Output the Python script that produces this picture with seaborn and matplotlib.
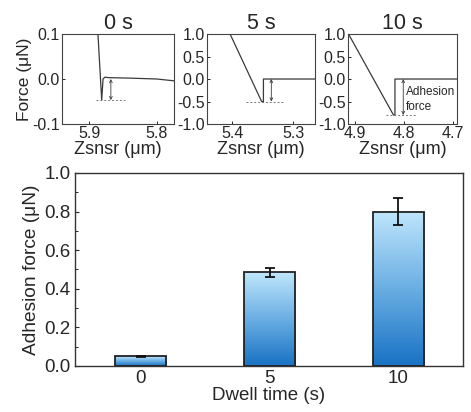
import numpy as np
import pandas as pd
import matplotlib
matplotlib.use("Agg")
import matplotlib.pyplot as plt
import seaborn as sns
from matplotlib.colors import LinearSegmentedColormap

# ---- data ----
dwell = ["0", "5", "10"]
adhesion = [0.05, 0.485, 0.80]
adhesion_err = [0.003, 0.025, 0.068]

titles = ["0 s", "5 s", "10 s"]
c0_x = [5.887, 5.8815, 5.8795, 5.877, 5.870, 5.840, 5.800, 5.775]
c0_y = [0.100, -0.047, 0.000, 0.004, 0.003, 0.002, 0.000, -0.004]
c5_x = [5.404, 5.352, 5.349, 5.349, 5.264]
c5_y = [1.00, -0.50, -0.50, 0.00, 0.00]
c10_x = [4.913, 4.821, 4.818, 4.818, 4.691]
c10_y = [1.00, -0.80, -0.80, 0.00, 0.00]
adh_level = [-0.047, -0.50, -0.80]
dot_x = [(5.890, 5.847), (5.377, 5.315), (4.836, 4.772)]
arrow_x = [5.868, 5.336, 4.801]
xlims = [(5.94, 5.775), (5.442, 5.264), (4.914, 4.691)]
ylims = [(-0.1, 0.1), (-1.0, 1.0), (-1.0, 1.0)]
xticks = [[5.9, 5.8], [5.4, 5.3], [4.9, 4.8, 4.7]]
yticks = [[-0.1, 0.0, 0.1], [-1.0, -0.5, 0.0, 0.5, 1.0], [-1.0, -0.5, 0.0, 0.5, 1.0]]

sns.set_style("ticks")
plt.rcParams['font.family'] = ['Liberation Sans', 'DejaVu Sans']
plt.rcParams['xtick.direction'] = 'in'
plt.rcParams['ytick.direction'] = 'in'

fig = plt.figure(figsize=(4.71, 4.12), dpi=100)
top_pos = [(0.1316, 0.699, 0.2378, 0.2184),
           (0.4395, 0.699, 0.2293, 0.2184),
           (0.7389, 0.699, 0.2314, 0.2184)]
curves = [(c0_x, c0_y), (c5_x, c5_y), (c10_x, c10_y)]
linec = "#3a3a3a"
for i, pos in enumerate(top_pos):
    ax = fig.add_axes(pos)
    df = pd.DataFrame({"x": curves[i][0], "y": curves[i][1]})
    sns.lineplot(data=df, x="x", y="y", ax=ax, color=linec, lw=0.9, sort=False, estimator=None)
    ax.plot(dot_x[i], [adh_level[i]] * 2, ls=(0, (2, 2)), color="#777777", lw=0.7)
    ax.annotate("", xy=(arrow_x[i], adh_level[i]), xytext=(arrow_x[i], 0.0),
                arrowprops=dict(arrowstyle="<->", color=linec, lw=0.6, mutation_scale=5,
                                shrinkA=0, shrinkB=0))
    ax.set_xlim(*xlims[i])
    ax.set_ylim(*ylims[i])
    ax.set_xticks(xticks[i])
    ax.set_yticks(yticks[i])
    ax.set_xticklabels([f"{v:.1f}" for v in xticks[i]])
    ax.set_yticklabels([f"{v:.1f}" for v in yticks[i]])
    ax.tick_params(labelsize=11.5, length=2.5, width=0.7, pad=1.5)
    ax.set_title(titles[i], fontsize=15.5, pad=2)
    ax.set_xlabel("Zsnsr (μm)", fontsize=13, labelpad=0)
    ax.set_ylabel("Force (μN)" if i == 0 else "", fontsize=12.5, labelpad=0)
    for s in ax.spines.values():
        s.set_visible(True)
        s.set_linewidth(0.8)
        s.set_color("#444444")
    if i == 2:
        ax.text(4.795, -0.45, "Adhesion\nforce", fontsize=8.5, va="center", ha="left",
                linespacing=1.3)

# ---- bar chart ----
ax = fig.add_axes((0.1592, 0.1117, 0.8238, 0.4684))
bdf = pd.DataFrame({"Dwell": dwell, "Force": adhesion})
sns.barplot(data=bdf, x="Dwell", y="Force", ax=ax, width=0.4, color="#8fc3ea",
            edgecolor="#222222", linewidth=1.3, errorbar=None)
cmap = LinearSegmentedColormap.from_list("g", ["#1872c4", "#6aaee3", "#bfe6fc"])
grad = np.linspace(0, 1, 256).reshape(-1, 1)
for p in ax.patches:
    x0, y0 = p.get_x(), p.get_y()
    w, h = p.get_width(), p.get_height()
    im = ax.imshow(grad, extent=(x0, x0 + w, y0, y0 + h), origin="lower",
                   cmap=cmap, aspect="auto", zorder=p.get_zorder() - 0.1)
    im.set_clip_path(p)
    p.set_facecolor("none")
ax.errorbar(range(len(dwell)), adhesion, yerr=adhesion_err, fmt="none",
            ecolor="#111111", elinewidth=1.3, capsize=3.5, capthick=1.3, zorder=5)
ax.set_xlim(-0.508, 2.5)
ax.set_ylim(0, 1.0)
ax.set_yticks(np.arange(0, 1.01, 0.2))
ax.set_yticklabels([f"{v:.1f}" for v in np.arange(0, 1.01, 0.2)])
ax.set_yticks(np.arange(0.1, 1.0, 0.2), minor=True)
ax.tick_params(axis="both", labelsize=13.5, length=3, width=0.8, pad=3)
ax.tick_params(axis="y", which="minor", length=2, width=0.7)
ax.tick_params(axis="x", length=0)
ax.set_xlabel("Dwell time (s)", fontsize=13.5, labelpad=0)
ax.set_ylabel("Adhesion force (μN)", fontsize=13.8, labelpad=3)
for s in ax.spines.values():
    s.set_visible(True)
    s.set_linewidth(1.0)
    s.set_color("#333333")

fig.savefig("out.png", dpi=100)
